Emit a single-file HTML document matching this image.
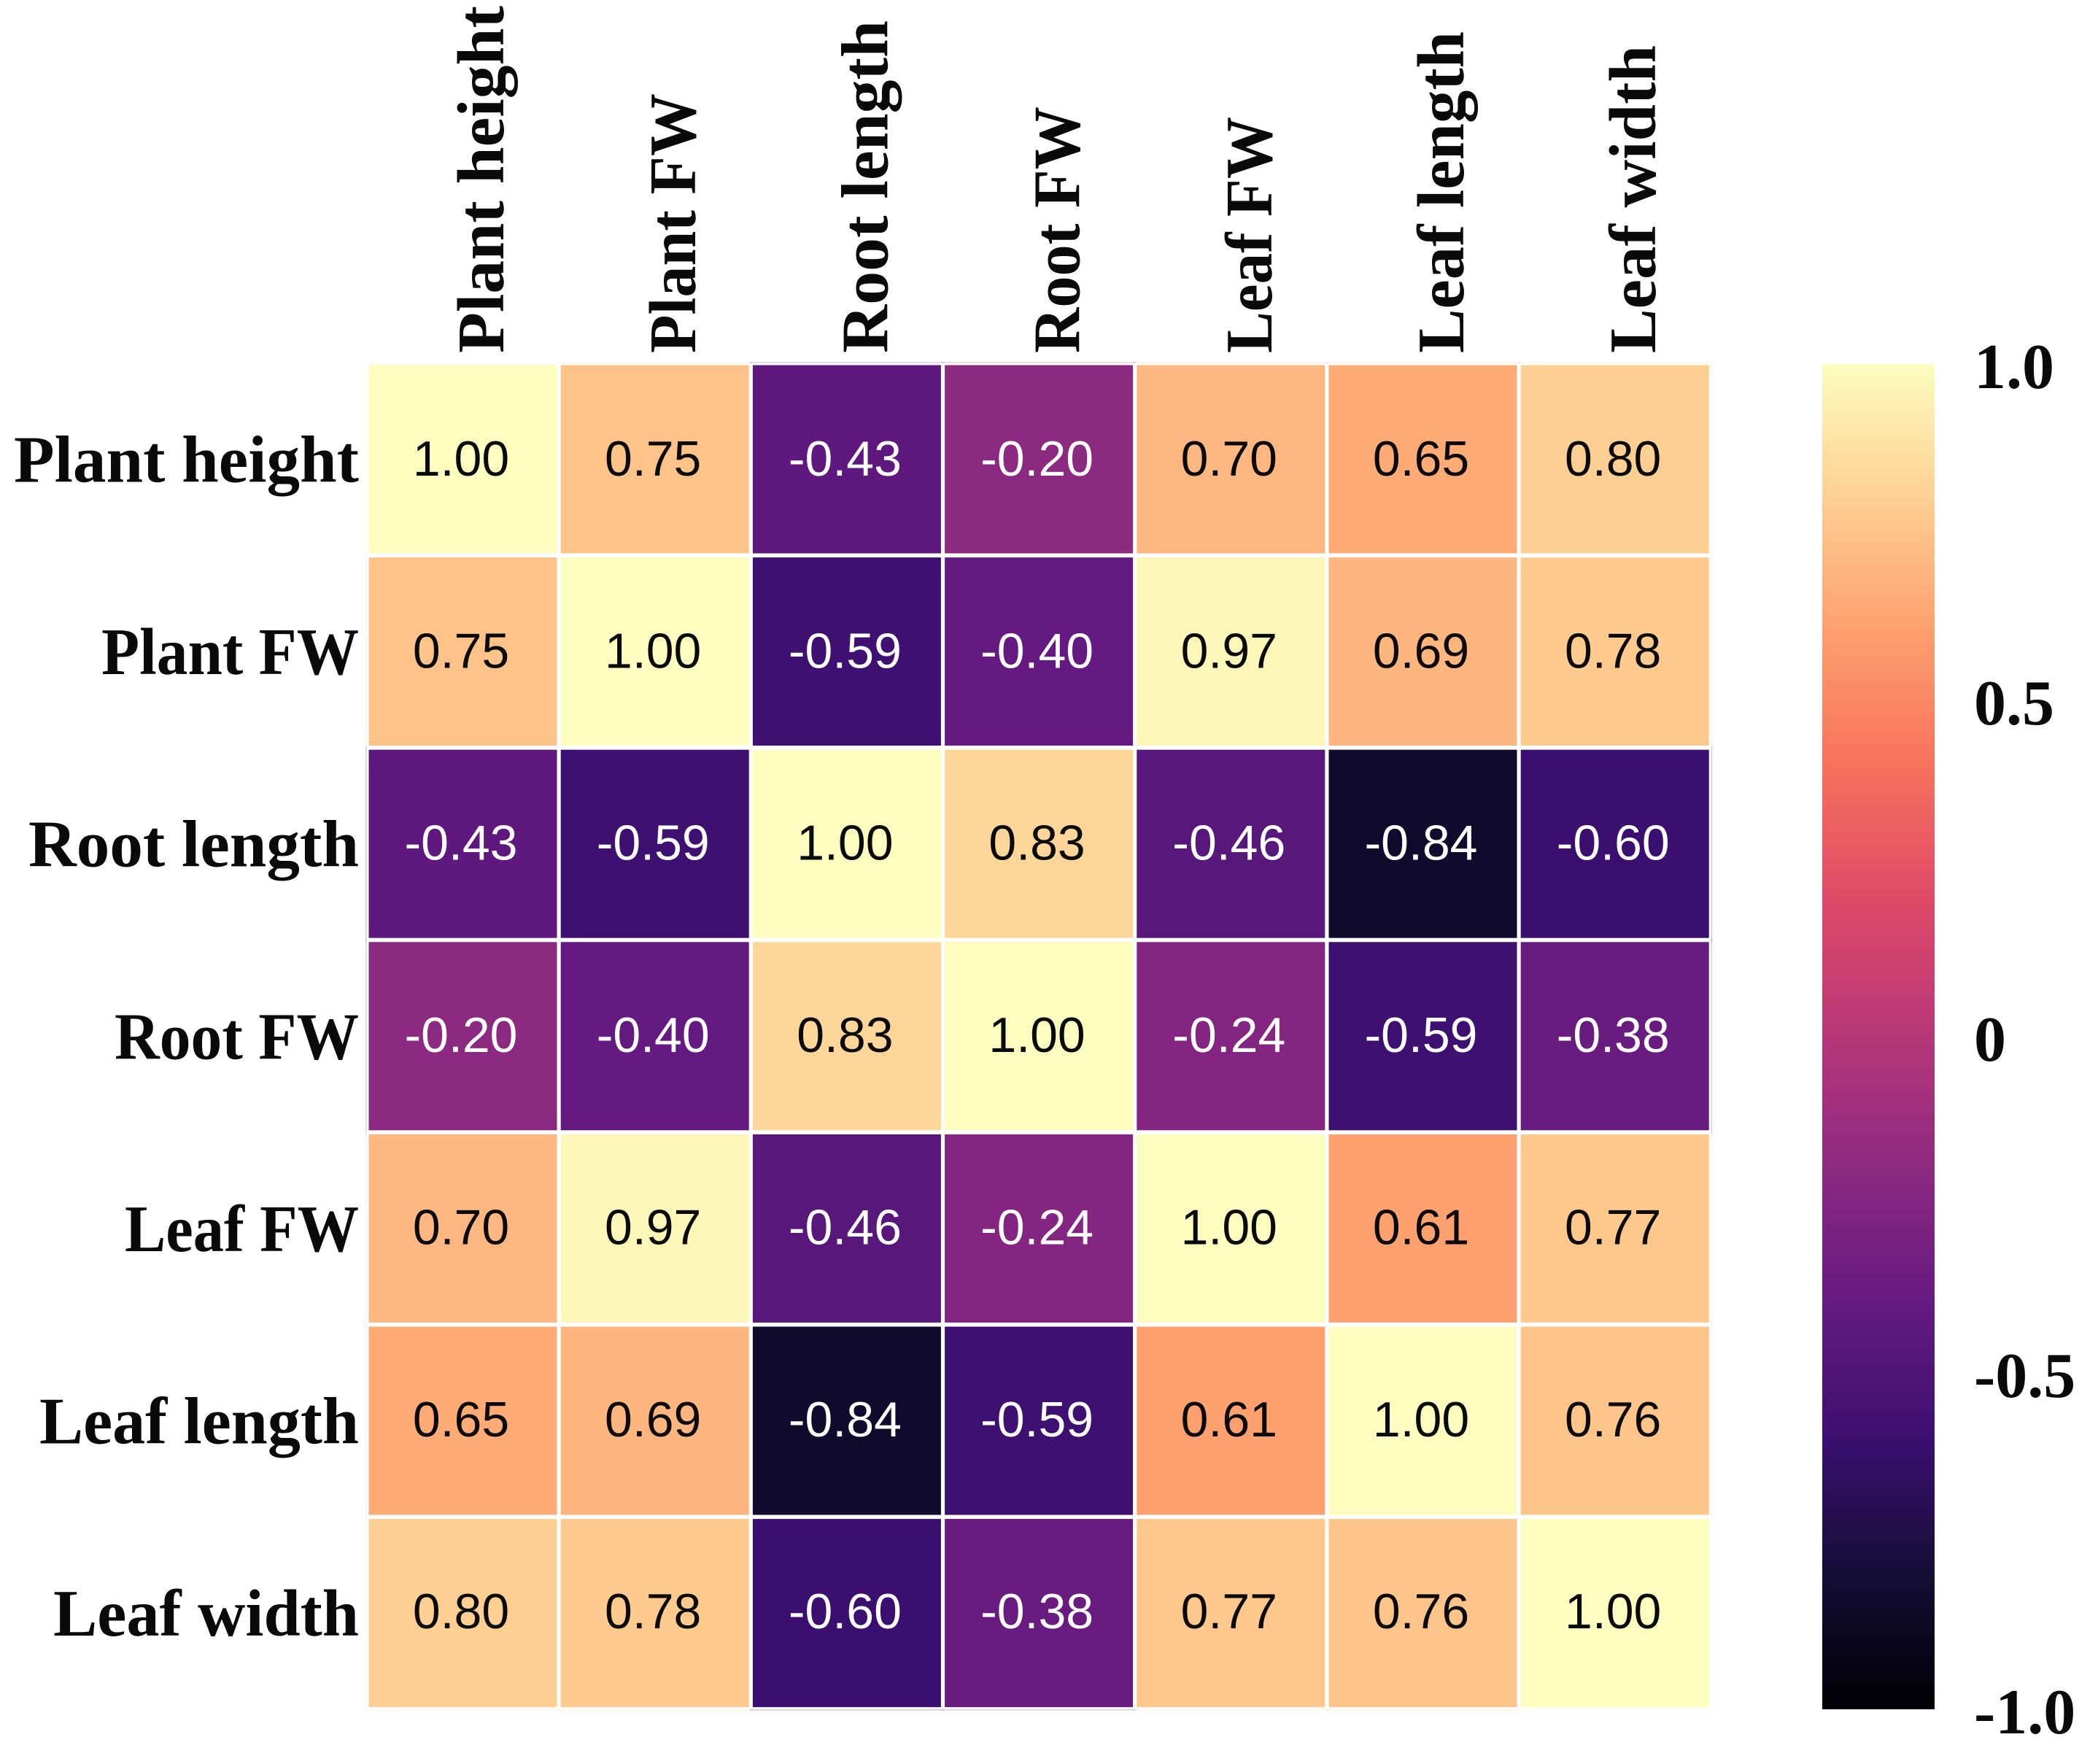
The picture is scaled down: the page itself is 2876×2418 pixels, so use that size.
<!DOCTYPE html>
<html lang="en">
<head>
<meta charset="utf-8">
<title>Correlation heatmap</title>
<style>
html,body{margin:0;padding:0;background:#fff;}
svg{display:block;}
.cat{font-family:"Liberation Serif",serif;font-weight:700;font-size:91px;fill:#0a0a0a;}
.val{font-family:"Liberation Sans",sans-serif;font-size:68px;text-anchor:middle;}
.tick{font-family:"Liberation Serif",serif;font-weight:700;font-size:88px;fill:#0a0a0a;}
</style>
</head>
<body>
<svg id="chart" xmlns="http://www.w3.org/2000/svg" width="2876" height="2418" viewBox="0 0 2876 2418">
  <rect x="0" y="0" width="2876" height="2418" fill="#ffffff"/>
  <defs>
    <linearGradient id="cbar-grad" x1="0" y1="1" x2="0" y2="0"></linearGradient>
  </defs>
  <g id="cell-halos"></g>
  <rect id="grid-lines" fill="#ffffff"/>
  <g id="cells"></g>
  <g id="row-labels"></g>
  <g id="col-labels"></g>
  <rect x="2498" y="499" width="154" height="1844" fill="url(#cbar-grad)"/>
  <g id="cbar-ticks"></g>
</svg>
<script>
// Data
const categories = ["Plant height", "Plant FW", "Root length", "Root FW", "Leaf FW", "Leaf length", "Leaf width"];
const plantHeightRow = [1.00, 0.75, -0.43, -0.20, 0.70, 0.65, 0.80];
const plantFwRow = [0.75, 1.00, -0.59, -0.40, 0.97, 0.69, 0.78];
const rootLengthRow = [-0.43, -0.59, 1.00, 0.83, -0.46, -0.84, -0.60];
const rootFwRow = [-0.20, -0.40, 0.83, 1.00, -0.24, -0.59, -0.38];
const leafFwRow = [0.70, 0.97, -0.46, -0.24, 1.00, 0.61, 0.77];
const leafLengthRow = [0.65, 0.69, -0.84, -0.59, 0.61, 1.00, 0.76];
const leafWidthRow = [0.80, 0.78, -0.60, -0.38, 0.77, 0.76, 1.00];
const matrix = [plantHeightRow, plantFwRow, rootLengthRow, rootFwRow, leafFwRow, leafLengthRow, leafWidthRow];
const colorbarTicks = [1, 0.5, 0, -0.5, -1];
const colorbarTickLabels = ["1.0", "0.5", "0", "-0.5", "-1.0"];

// Magma colormap ramp
const magmaRamp = ["#000004", "#140e36", "#3b0f70", "#641a80", "#8c2981", "#b73779", "#de4968", "#f7705c", "#fe9f6d", "#fecf92", "#fcfdbf"];

// Axis functions
const SVG_NS = "http://www.w3.org/2000/svg";
const vMin = -1, vMax = 1;
function xBand(j) { return 505.5 + j * 263.2; }
function yBand(i) { return 500.5 + i * 263.6; }
const cellW = 258, cellH = 258;
function yColorbar(v) { return 499 + (vMax - v) / (vMax - vMin) * 1844; }

function hexToRgb(h) {
  return [parseInt(h.slice(1, 3), 16), parseInt(h.slice(3, 5), 16), parseInt(h.slice(5, 7), 16)];
}
function colorOf(v) {
  const t = Math.max(0, Math.min(1, (v - vMin) / (vMax - vMin))) * (magmaRamp.length - 1);
  const k = Math.min(magmaRamp.length - 2, Math.floor(t));
  const a = hexToRgb(magmaRamp[k]), b = hexToRgb(magmaRamp[k + 1]), f = t - k;
  return "rgb(" + a.map(function (c, n) { return Math.round(c + (b[n] - c) * f); }).join(",") + ")";
}
function slug(s) { return s.toLowerCase().replace(/\s+/g, "-"); }

// Ink width of each category label, fitted to the reference typeface
const labelInkWidth = {"Plant height": 473, "Plant FW": 353, "Root length": 453, "Root FW": 335, "Leaf FW": 321, "Leaf length": 438, "Leaf width": 419};

const haloG = document.getElementById("cell-halos");
const cellsG = document.getElementById("cells");
const rowG = document.getElementById("row-labels");
const colG = document.getElementById("col-labels");
const tickG = document.getElementById("cbar-ticks");
const grad = document.getElementById("cbar-grad");
const gridRect = document.getElementById("grid-lines");

magmaRamp.forEach(function (c, k) {
  const stop = document.createElementNS(SVG_NS, "stop");
  stop.setAttribute("offset", k / (magmaRamp.length - 1));
  stop.setAttribute("stop-color", c);
  grad.appendChild(stop);
});

gridRect.setAttribute("x", xBand(0) - 3);
gridRect.setAttribute("y", yBand(0) - 3);
gridRect.setAttribute("width", xBand(matrix.length - 1) + cellW + 3 - (xBand(0) - 3));
gridRect.setAttribute("height", yBand(matrix.length - 1) + cellH + 3 - (yBand(0) - 3));

matrix.forEach(function (row, i) {
  row.forEach(function (v, j) {
    const halo = document.createElementNS(SVG_NS, "rect");
    halo.setAttribute("x", xBand(j) - 4.5);
    halo.setAttribute("y", yBand(i) - 4.5);
    halo.setAttribute("width", cellW + 9);
    halo.setAttribute("height", cellH + 9);
    halo.setAttribute("fill", colorOf(v));
    halo.setAttribute("opacity", "0.22");
    
    
    haloG.appendChild(halo);

    const rect = document.createElementNS(SVG_NS, "rect");
    rect.setAttribute("x", xBand(j));
    rect.setAttribute("y", yBand(i));
    rect.setAttribute("width", cellW);
    rect.setAttribute("height", cellH);
    rect.setAttribute("fill", colorOf(v));
    
    
    cellsG.appendChild(rect);

    const txt = document.createElementNS(SVG_NS, "text");
    txt.setAttribute("class", "val");
    txt.setAttribute("x", xBand(j) + cellW / 2 - 2.5);
    txt.setAttribute("y", yBand(i) + cellH / 2 + 22.5 - i * 0.25);
    txt.setAttribute("fill", v < 0 ? "#ffffff" : "#0a0a0a");
    txt.textContent = v.toFixed(2);
    
    
    cellsG.appendChild(txt);
  });
});

categories.forEach(function (name, i) {
  const yl = document.createElementNS(SVG_NS, "text");
  yl.setAttribute("class", "cat");
  yl.setAttribute("x", 492 - labelInkWidth[name]);
  yl.setAttribute("y", yBand(i) + cellH / 2 + 31);
  yl.setAttribute("textLength", labelInkWidth[name]);
  yl.setAttribute("lengthAdjust", "spacingAndGlyphs");
  yl.textContent = name;
  
  
  rowG.appendChild(yl);

  const xl = document.createElementNS(SVG_NS, "text");
  const bx = xBand(i) + cellW / 2 + 55.5;
  xl.setAttribute("class", "cat");
  xl.setAttribute("x", 0);
  xl.setAttribute("y", 0);
  xl.setAttribute("transform", "translate(" + bx + ",484) rotate(-90)");
  xl.setAttribute("textLength", labelInkWidth[name] + 3);
  xl.setAttribute("lengthAdjust", "spacingAndGlyphs");
  xl.textContent = name;
  
  
  colG.appendChild(xl);
});

colorbarTicks.forEach(function (v, k) {
  const t = document.createElementNS(SVG_NS, "text");
  t.setAttribute("class", "tick");
  t.setAttribute("x", 2706);
  t.setAttribute("y", yColorbar(v) + 33);
  t.textContent = colorbarTickLabels[k];
  
  
  tickG.appendChild(t);
});
</script>
</body>
</html>
